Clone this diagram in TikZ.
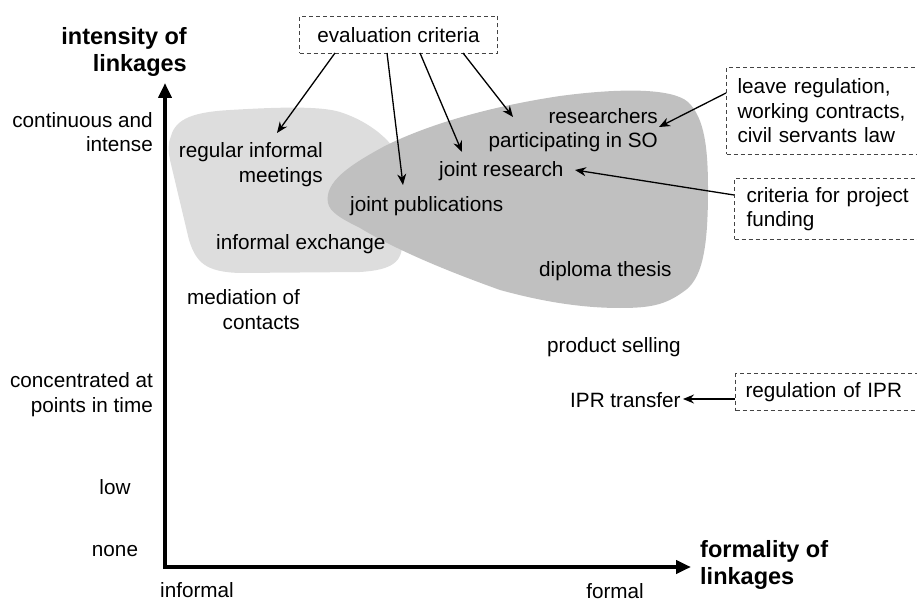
\documentclass[tikz,border=0pt]{standalone}
\usepackage{fontspec}
\setmainfont{Liberation Sans}
\usetikzlibrary{arrows.meta}
\definecolor{lightblob}{HTML}{DDDDDD}
\definecolor{darkblob}{HTML}{C0C0C0}
\definecolor{dashgray}{HTML}{444444}
\tikzset{
  txt/.style={inner sep=0pt, font=\fontsize{20.7}{24.5}\selectfont},
  axlabel/.style={inner sep=0pt, font=\fontsize{23.5}{27}\selectfont\bfseries},
  dbox/.style={draw=dashgray, line width=1pt, dash pattern=on 4pt off 3pt, inner ysep=0pt, font=\fontsize{20.7}{24.5}\selectfont, align=left},
  conn/.style={line width=1.3pt, -{Stealth[length=11pt,width=9pt]}},
  axis/.style={line width=4pt, line join=miter, {Triangle[length=15pt,width=13pt]}-{Triangle[length=15pt,width=13pt]}}
}
\begin{document}
\begin{tikzpicture}[x=1pt,y=-1pt]
\useasboundingbox (0,0) rectangle (917,601);
% blobs
\fill[lightblob] (171,136) .. controls (176,118) and (195,112) .. (230,110)
  .. controls (280,107) and (320,106) .. (340,112)
  .. controls (365,120) and (385,135) .. (395,150)
  .. controls (400,160) and (401,170) .. (401,185)
  -- (402,242)
  .. controls (403,262) and (392,270) .. (360,272)
  -- (240,273)
  .. controls (205,272) and (196,262) .. (189,240)
  -- (170,160)
  .. controls (168,150) and (168,143) .. (171,136) -- cycle;
\fill[darkblob] (328,203) .. controls (324,182) and (350,165) .. (383,147)
  .. controls (420,128) and (480,108) .. (560,96)
  .. controls (620,88) and (672,88) .. (688,102)
  .. controls (705,118) and (708,150) .. (708,190)
  .. controls (708,250) and (702,280) .. (683,292)
  .. controls (665,305) and (650,308) .. (620,308)
  .. controls (580,308) and (540,301) .. (500,290)
  .. controls (450,272) and (400,252) .. (360,228)
  .. controls (340,218) and (330,212) .. (328,203) -- cycle;
% axes
\coordinate (ytip) at (165,83);
\coordinate (origin) at (165,567);
\coordinate (xtip) at (691,567);
\draw[axis] (ytip) -- (origin) -- (xtip);
% axis labels
\node[axlabel, anchor=east, align=right] (ylab) at (187,51.5) {intensity of\\linkages};
\node[axlabel, anchor=west, align=left] (xlab) at (700,564.5) {formality of\\linkages};
\node[txt, anchor=east, align=right] (cont) at (153,132) {continuous and\\intense};
\node[txt, anchor=east, align=right] (conc) at (153,394.5) {concentrated at\\points in time};
\node[txt] (low) at (115,487) {low};
\node[txt] (none) at (115,551) {none};
\node[txt] (informal) at (197,590) {informal};
\node[txt] (formal) at (615,591) {formal};
% items
\node[txt, anchor=east, align=right] (rim) at (323,164.5) {regular informal\\meetings};
\node[txt, anchor=west] (jpub) at (350,206) {joint publications};
\node[txt, anchor=west] (iex) at (216,244) {informal exchange};
\node[txt, anchor=west] (jres) at (439,171) {joint research};
\node[txt, anchor=east, align=right] (res) at (658,130) {researchers\\participating in SO};
\node[txt, anchor=west] (dipl) at (539,271) {diploma thesis};
\node[txt, anchor=east, align=right] (med) at (300,309.5) {mediation of\\contacts};
\node[txt, anchor=west] (prod) at (547,347) {product selling};
\node[txt, anchor=west] (ipr) at (570,400) {IPR transfer};
% dashed boxes
\node[dbox, anchor=north west, minimum width=198pt, minimum height=37pt, inner xsep=0pt, align=center] (eval) at (299,16) {evaluation criteria};
\node[dbox, anchor=north west, text width=200pt, inner xsep=11pt, minimum height=87pt] (leave) at (726,67) {leave regulation,\\working contracts,\\civil servants law};
\node[dbox, anchor=north west, text width=200pt, inner xsep=12pt, minimum height=61pt] (crit) at (734,178) {criteria for project\\funding};
\node[dbox, anchor=north west, text width=200pt, inner xsep=10pt, minimum height=37pt] (ipreg) at (735,373) {regulation of IPR};
% connector ends
\coordinate (e1) at (335,53);
\coordinate (e2) at (387,53);
\coordinate (e3) at (420,53);
\coordinate (e4) at (463,53);
\coordinate (t1) at (277,133);
\coordinate (t2) at (403,185);
\coordinate (t3) at (462,152);
\coordinate (t4) at (513,117);
\coordinate (t5) at (659,127);
\coordinate (t6) at (575,170);
\coordinate (l1) at (726,93);
\coordinate (c1) at (734,195);
\coordinate (r1) at (735,399);
\coordinate (t7) at (683,399);
\draw[conn] (e1) -- (t1);
\draw[conn] (e2) -- (t2);
\draw[conn] (e3) -- (t3);
\draw[conn] (e4) -- (t4);
\draw[conn] (l1) -- (t5);
\draw[conn] (c1) -- (t6);
\draw[conn] (r1) -- (t7);
\end{tikzpicture}
\end{document}
